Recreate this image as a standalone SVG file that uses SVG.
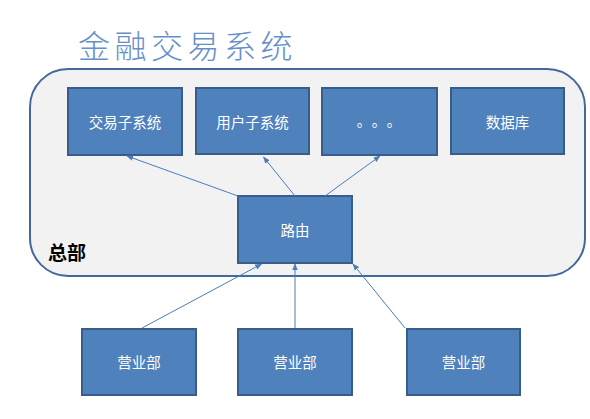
<svg xmlns="http://www.w3.org/2000/svg" width="590" height="419" viewBox="0 0 590 419">
<style>
.box{fill:#4F81BD;stroke:#385D8A;stroke-width:2}
.lbl{fill:#fff;font-family:"Noto Sans CJK SC","Liberation Sans",sans-serif;font-size:14.5px;text-anchor:middle;dominant-baseline:central}
.conn line{stroke:#4A7EBB;stroke-width:1;marker-end:url(#ah)}
</style>
<defs>
<marker id="ah" viewBox="0 0 10 10" refX="9" refY="5" markerWidth="7" markerHeight="7" markerUnits="userSpaceOnUse" orient="auto">
<path d="M0,1 L10,5 L0,9 z" fill="#4A7EBB"/>
</marker>
</defs>
<rect width="590" height="419" fill="#fff"/>
<text id="title" x="78" y="58" font-family="Noto Sans CJK SC,Liberation Sans,sans-serif" font-weight="300" font-size="32" letter-spacing="4.5" fill="#6690CA">金融交易系统</text>
<g id="hq">
<rect x="30" y="69" width="555" height="207" rx="38" ry="38" fill="#F2F2F2" stroke="#41699C" stroke-width="2"/>
<text x="48" y="251" font-family="Noto Sans CJK SC,Liberation Sans,sans-serif" font-weight="bold" font-size="19" dominant-baseline="central" fill="#000">总部</text>
</g>
<g id="trade"><rect class="box" x="68" y="88" width="114" height="67"/><text class="lbl" x="125" y="121">交易子系统</text></g>
<g id="user"><rect class="box" x="196" y="88" width="113" height="66"/><text class="lbl" x="252.5" y="121">用户子系统</text></g>
<g id="more"><rect class="box" x="322" y="88" width="115" height="67"/><text class="lbl" x="364 379 394" y="119">。。。</text></g>
<g id="db"><rect class="box" x="451" y="88" width="113" height="66"/><text class="lbl" x="507.5" y="121">数据库</text></g>
<g id="router"><rect class="box" x="238" y="196" width="114" height="67"/><text class="lbl" x="295" y="229">路由</text></g>
<g id="b1"><rect class="box" x="82" y="329" width="114" height="66"/><text class="lbl" x="139" y="361">营业部</text></g>
<g id="b2"><rect class="box" x="238" y="329" width="114" height="66"/><text class="lbl" x="295" y="361">营业部</text></g>
<g id="b3"><rect class="box" x="407" y="329" width="113" height="66"/><text class="lbl" x="463.5" y="361">营业部</text></g>
<g class="conn" id="connectors">
<line x1="238" y1="196" x2="127" y2="156"/>
<line x1="295" y1="196" x2="263.5" y2="157"/>
<line x1="325" y1="196" x2="380" y2="156"/>
<line x1="142" y1="328" x2="261.5" y2="264"/>
<line x1="295" y1="328" x2="295" y2="264"/>
<line x1="405" y1="328" x2="353" y2="264"/>
</g>
</svg>
